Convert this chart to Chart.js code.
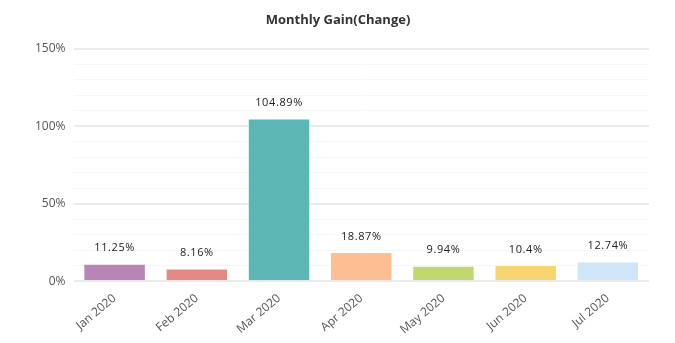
<!DOCTYPE html>
<html>
<head>
<meta charset="utf-8">
<script src="https://cdn.jsdelivr.net/npm/chart.js@4/dist/chart.umd.min.js"></script>
<style>
  html, body { margin: 0; padding: 0; background: #fff; }
  #wrap { width: 675px; height: 343px; }
</style>
</head>
<body>
<div id="wrap"><canvas id="gain-chart"></canvas></div>
<script>
// ── Data ───────────────────────────────────────────────────────
const months = ["Jan 2020", "Feb 2020", "Mar 2020", "Apr 2020", "May 2020", "Jun 2020", "Jul 2020"];
const gains  = [11.25, 8.16, 104.89, 18.87, 9.94, 10.4, 12.74];
const colors = ["#b786b6", "#e48985", "#5bb6b4", "#fdbe92", "#c0d86f", "#f7d672", "#cfe6f8"];
const majorTicks = [0, 50, 100, 150];

// value labels above each bar
const valueLabels = {
  id: "valueLabels",
  afterDatasetsDraw(chart) {
    const { ctx } = chart;
    const meta = chart.getDatasetMeta(0);
    ctx.save();
    ctx.font = "11px 'Open Sans', sans-serif";
    ctx.fillStyle = "#222";
    ctx.textAlign = "center";
    ctx.textBaseline = "bottom";
    if ("letterSpacing" in ctx) ctx.letterSpacing = "0.6px";
    meta.data.forEach((bar, i) => {
      ctx.fillText(gains[i] + "%", bar.x, bar.y - 10);
    });
    ctx.restore();
  },
};

new Chart(document.getElementById("gain-chart"), {
  type: "bar",
  data: {
    labels: months,
    datasets: [{
      data: gains,
      backgroundColor: colors,
      borderColor: "rgba(255,255,255,0.6)",
      borderWidth: 1,
      categoryPercentage: 0.76,
      barPercentage: 1,
    }],
  },
  plugins: [valueLabels],
  options: {
    responsive: true,
    maintainAspectRatio: false,
    animation: false,
    layout: { padding: { left: 27, right: 26, top: 0, bottom: 4 } },
    plugins: {
      legend: { display: false },
      tooltip: { enabled: false },
      title: {
        display: true,
        text: "Monthly Gain(Change)",
        color: "#333",
        font: { family: "'Open Sans', sans-serif", size: 13, weight: "bold" },
        padding: { top: 12, bottom: 21 },
      },
    },
    scales: {
      x: {
        grid: { display: false },
        border: { display: false },
        ticks: {
          color: "#555",
          font: { family: "'Open Sans', sans-serif", size: 12 },
          minRotation: 40,
          maxRotation: 40,
          padding: 2,
        },
      },
      y: {
        min: 0,
        max: 150,
        border: { display: false },
        grid: {
          color: (c) => majorTicks.includes(c.tick.value) ? "#ebebeb" : "#f6f6f6",
          lineWidth: (c) => majorTicks.includes(c.tick.value) ? 2 : 1,
          drawTicks: false,
        },
        ticks: {
          stepSize: 10,
          autoSkip: false,
          color: "#555",
          padding: 8,
          font: { family: "'Open Sans', sans-serif", size: 12 },
          callback: (v) => majorTicks.includes(v) ? v + "%" : "",
        },
      },
    },
  },
});
</script>
</body>
</html>
